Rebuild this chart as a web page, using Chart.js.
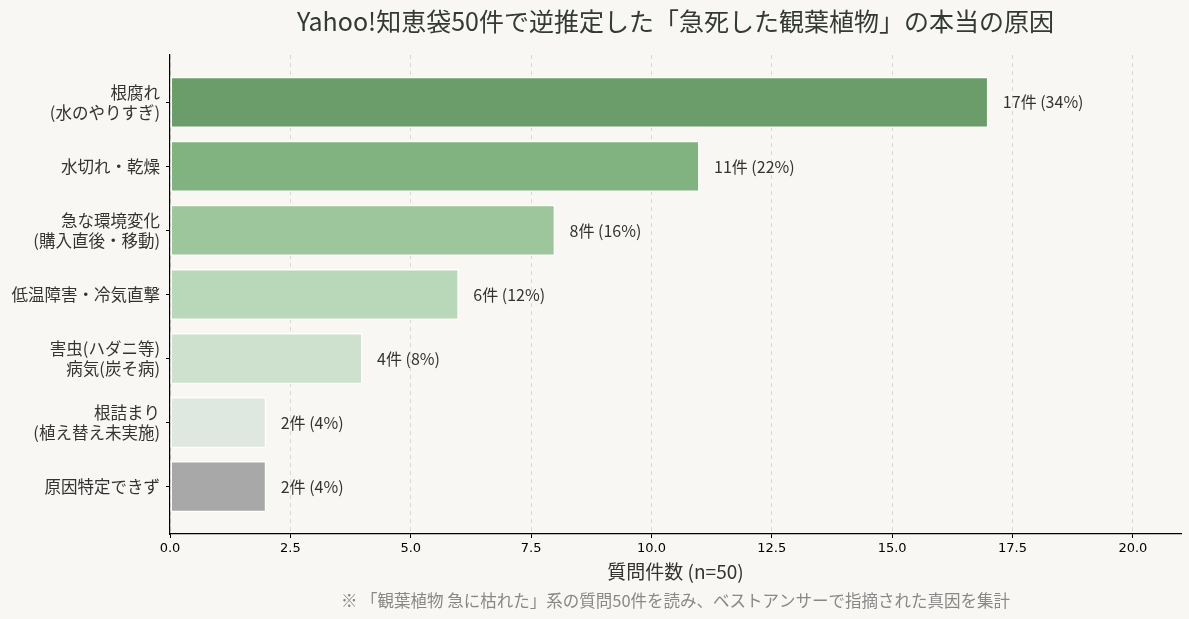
<!DOCTYPE html>
<html>
<head>
<meta charset="utf-8">
<script src="https://cdn.jsdelivr.net/npm/chart.js@4"></script>
<style>
  html, body { margin: 0; padding: 0; background: #f9f7f3; }
  #wrap { width: 1189px; height: 619px; position: relative; }
</style>
</head>
<body>
<div id="wrap"><canvas id="chart"></canvas></div>
<script>
// Causes of sudden houseplant death, read from the 50 Yahoo! Chiebukuro questions
const causes = [
    '根腐れ\n(水のやりすぎ)',
    '水切れ・乾燥',
    '急な環境変化\n(購入直後・移動)',
    '低温障害・冷気直撃',
    '害虫(ハダニ等)\n病気(炭そ病)',
    '根詰まり\n(植え替え未実施)',
    '原因特定できず'
];
const counts = [17, 11, 8, 6, 4, 2, 2];
const totalQuestions = 50;
const xTicks = [0, 2.5, 5, 7.5, 10, 12.5, 15, 17.5, 20];

const barColors = ['#6b9d6b', '#80b380', '#9dc69d', '#b9d8b9', '#cee1ce', '#dee8e1', '#a8a8a8'];

const titleText = 'Yahoo!知恵袋50件で逆推定した「急死した観葉植物」の本当の原因';
const xTitleText = '質問件数 (n=50)';
const noteText = '※ 「観葉植物 急に枯れた」系の質問50件を読み、ベストアンサーで指摘された真因を集計';

const jpFont = '"Noto Sans CJK JP", "Noto Sans", sans-serif';

// Background + title + x label + footnote + value labels
const decorations = {
    id: 'decorations',
    beforeDraw(chart) {
        const c = chart.ctx;
        c.save();
        c.fillStyle = '#f9f7f3';
        c.fillRect(0, 0, chart.width, chart.height);
        c.restore();
    },
    afterDatasetsDraw(chart) {
        const c = chart.ctx;
        const area = chart.chartArea;
        const xs = chart.scales.x;
        const mid = (area.left + area.right) / 2;
        c.save();
        c.textAlign = 'center';
        c.textBaseline = 'middle';
        c.fillStyle = '#333a36';
        c.font = '25px ' + jpFont;
        c.fillText(titleText, mid, 21);
        c.fillStyle = '#333333';
        c.font = '19px ' + jpFont;
        c.fillText(xTitleText, mid, 572);
        c.fillStyle = '#888888';
        c.font = '16.5px ' + jpFont;
        c.fillText(noteText, mid, 601);

        // value labels to the right of each bar
        const meta = chart.getDatasetMeta(0);
        c.textAlign = 'left';
        c.fillStyle = '#333333';
        c.font = '16px ' + jpFont;
        meta.data.forEach((bar, i) => {
            const v = counts[i];
            const pct = Math.round(v / totalQuestions * 100);
            c.fillText(v + '件 (' + pct + '%)', xs.getPixelForValue(v + 0.3), bar.y);
        });
        c.restore();
    }
};

const ctx = document.getElementById('chart');
new Chart(ctx, {
    type: 'bar',
    data: {
        datasets: [{
            data: counts.map((v, i) => ({ x: v, y: i })),
            backgroundColor: barColors,
            borderColor: '#ffffff',
            borderWidth: 1.5,
            borderSkipped: false,
            categoryPercentage: 0.8,
            barPercentage: 1.0
        }]
    },
    options: {
        indexAxis: 'y',
        responsive: true,
        maintainAspectRatio: false,
        animation: false,
        layout: { padding: { top: 55, right: 8, left: 0, bottom: 0 } },
        plugins: {
            legend: { display: false },
            tooltip: { enabled: false },
            title: { display: false }
        },
        scales: {
            x: {
                type: 'linear',
                min: 0,
                max: 21,
                afterBuildTicks: (scale) => { scale.ticks = xTicks.map(v => ({ value: v })); },
                afterFit: (scale) => { scale.height = 85; },
                ticks: {
                    callback: (v) => Number(v).toFixed(1),
                    color: '#000000',
                    font: { family: '"DejaVu Sans", sans-serif', size: 13 },
                    padding: 3,
                    maxRotation: 0
                },
                grid: {
                    color: 'rgba(0,0,0,0.13)',
                    tickColor: '#000000',
                    tickLength: 4,
                    tickBorderDash: []
                },
                border: { display: true, color: '#000000', width: 1.2, dash: [4, 4] }
            },
            y: {
                type: 'linear',
                min: -0.74,
                max: 6.74,
                reverse: true,
                offset: false,
                afterBuildTicks: (scale) => { scale.ticks = causes.map((_, i) => ({ value: i })); },
                afterFit: (scale) => { scale.width = 170; },
                ticks: {
                    callback: (v) => causes[v].split('\n'),
                    color: '#333333',
                    font: { family: jpFont, size: 16.5 },
                    padding: 6
                },
                grid: {
                    offset: false,
                    drawOnChartArea: false,
                    tickColor: '#000000',
                    tickLength: 4
                },
                border: { display: true, color: '#000000', width: 1.2 }
            }
        }
    },
    plugins: [decorations]
});
</script>
</body>
</html>
